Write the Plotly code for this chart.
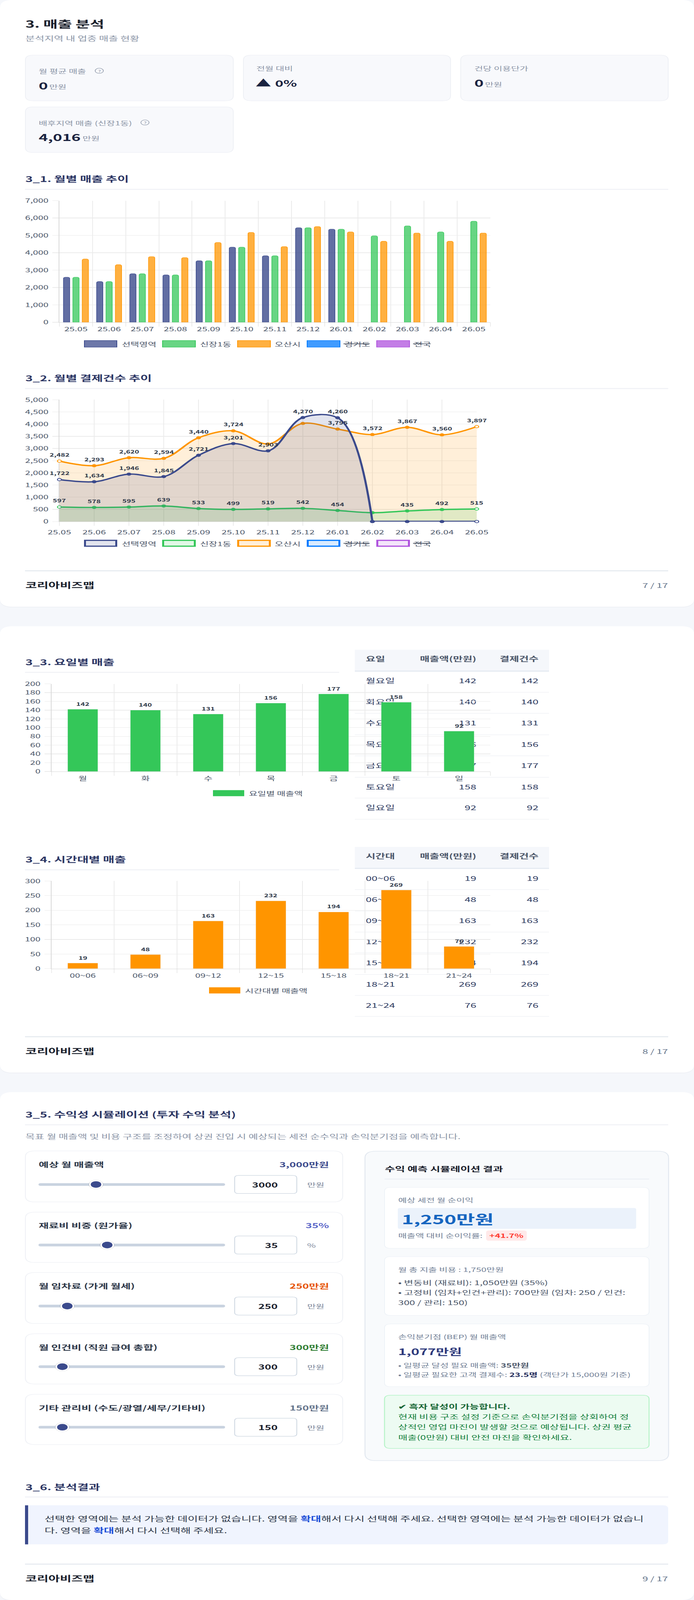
import plotly.graph_objects as go

FONT = "Noto Sans CJK KR"
W, H = 1776, 6556

months = ["25.05","25.06","25.07","25.08","25.09","25.10","25.11","25.12","26.01","26.02","26.03","26.04","26.05"]
sales_selected = [2594,2344,2795,2726,3541,4324,3829,5440,5358,None,None,None,None]
sales_sinjang = [2594,2344,2795,2726,3541,4324,3829,5440,5358,4976,5546,5201,5816]
sales_osan = [3641,3315,3779,3722,4594,5170,4355,5508,5201,4663,5139,4663,5139]

count_selected = [1722,1634,1946,1845,2721,3201,2903,4270,4260,0,0,0,0]
count_sinjang = [597,578,595,639,533,499,519,542,454,363,435,492,515]
count_osan = [2482,2293,2620,2594,3440,3724,3185,4029,3795,3572,3867,3560,3897]
hidden_selected = {9,10,11,12}
hidden_sinjang = {9}
hidden_osan = {6,7}

legend_names = ["선택영역","신장1동","오산시","경기도","전국"]

weekdays = ["월","화","수","목","금","토","일"]
weekday_full = ["월요일","화요일","수요일","목요일","금요일","토요일","일요일"]
weekday_sales = [142,140,131,156,177,158,92]
weekday_counts = [142,140,131,156,177,158,92]

hours = ["00~06","06~09","09~12","12~15","15~18","18~21","21~24"]
hour_sales = [19,48,163,232,194,269,76]
hour_counts = [19,48,163,232,194,269,76]

NAVY="#3b4a8c"; GREEN="#34c759"; ORANGE="#ff9500"; BLUE="#007aff"; PURPLE="#af52de"
SLATE="#4a5568"; DARK="#2d3748"; HEAD="#2b3563"; GRAY="#8a94a6"; GRID="#ebebeb"; AXL="#d8d8d8"

def rgba(h,a):
    h=h.lstrip('#'); return f"rgba({int(h[:2],16)},{int(h[2:4],16)},{int(h[4:],16)},{a})"

shapes=[]; annos=[]
def rrect(x0,y0,x1,y1,r=0,fill="#fff",line=None,lw=0,rl=None):
    rl = r if rl is None else rl
    p=(f"M{x0+rl},{y0} L{x1-r},{y0} Q{x1},{y0} {x1},{y0+r} L{x1},{y1-r} Q{x1},{y1} {x1-r},{y1} "
       f"L{x0+rl},{y1} Q{x0},{y1} {x0},{y1-rl} L{x0},{y0+rl} Q{x0},{y0} {x0+rl},{y0} Z")
    shapes.append(dict(type="path",path=p,xref="x",yref="y",layer="below",fillcolor=fill,
                       line=dict(color=line or fill,width=lw)))
def hline(x0,x1,y,color,w=2):
    shapes.append(dict(type="line",x0=x0,x1=x1,y0=y,y1=y,xref="x",yref="y",layer="below",line=dict(color=color,width=w)))
def circle(cx,cy,r,fill,line=None,lw=0):
    shapes.append(dict(type="circle",x0=cx-r,x1=cx+r,y0=cy-r,y1=cy+r,xref="x",yref="y",layer="below",
                       fillcolor=fill,line=dict(color=line or fill,width=lw)))
def T(x,y,s,size=24,color=DARK,bold=False,anchor="left"):
    annos.append(dict(xref="x",yref="y",x=x,y=y,text=(f"<b>{s}</b>" if bold else s),showarrow=False,
                      xanchor=anchor,yanchor="middle",align=anchor,borderpad=0,
                      font=dict(family=FONT,size=size,color=color)))
def section(y_text,y_rule,s,x1=1710):
    T(64,y_text,s,32,HEAD,True)
    hline(64,x1,y_rule,"#f0f1f6",4)
def footer(y_line,y_text,page):
    hline(64,1710,y_line,"#cbd5e0",2)
    T(64,y_text,"코리아비즈맵",32,"#1a202c",True)
    T(1710,y_text,page,26,"#64748b",False,"right")

for y0,y1 in [(0,2486),(2566,4395),(4475,6556)]:
    rrect(0,y0+2,1776,y1+3,32,"#eef0f5")
    rrect(0,y0,1776,y1,32,"#ffffff")

T(64,97,"3. 매출 분석",40,"#1a202c",True)
T(64,156,"분석지역 내 업종 매출 현황",26.5,GRAY)
for x0,x1,y0,y1 in [(65,597,226,413),(623,1153,226,413),(1179,1710,226,413),(65,597,438,625)]:
    rrect(x0,y0,x1,y1,20,"#f8f9fc","#eef0f5",2)
def help_icon(cx,cy):
    circle(cx,cy,10.5,"rgba(0,0,0,0)",GRAY,1.6)
    T(cx,cy,"?",15,GRAY,False,"center")
T(98,290,"월 평균 매출",24,GRAY); help_icon(254,290)
T(98,349,"0",40,"#1a2340",True); T(125,354,"만원",24,GRAY)
T(655,279,"전월 대비",24,GRAY)
T(653,339,"▲",40,"#1a2340",True); T(703,339,"0%",36,"#1a2340",True)
T(1213,279,"건당 이용단가",24,GRAY)
T(1213,339,"0",40,"#1a2340",True); T(1240,344,"만원",24,GRAY)
T(98,502,"배후지역 매출 (신장1동)",24,GRAY); help_icon(371,502)
T(98,561,"4,016",40,"#1a2340",True); T(210,566,"만원",24,GRAY)

section(732,776,"3_1. 월별 매출 추이")
section(1548,1592,"3_2. 월별 결제건수 추이")
footer(2339,2397,"7 / 17")

leg_box=[(215,300),(415,501),(607,693),(785,871),(963,1049)]
leg_txt=[311,511,702,880,1058]
leg_end=[None,None,None,946,1102]
leg_col=[NAVY,GREEN,ORANGE,BLUE,PURPLE]
def legend(yc,alpha,lw):
    for (x0,x1),tx,te,c,n in zip(leg_box,leg_txt,leg_end,leg_col,legend_names):
        shapes.append(dict(type="rect",x0=x0+lw/2,x1=x1-lw/2,y0=yc-14.5+lw/2,y1=yc+14.5-lw/2,xref="x",yref="y",layer="below",
                           fillcolor=rgba(c,alpha),line=dict(color=c,width=lw)))
        T(tx,yc,n,24,SLATE)
        if te:
            hline(tx-1,te,yc,DARK,2.5)
legend(1409,0.75,2)
legend(2226,0.15,5)

def table_frame(x0,x1,ytop,yhead,rules):
    rrect(x0,ytop,x1,yhead,0,"#f5f7fb")
    hline(x0,x1,yhead-2,"#e2e8f0",4)
    for y in rules: hline(x0,x1,y,"#eef0f4",2)
table_frame(908,1405,2662,2752,[2837,2923,3011,3097,3185,3270,3357])
table_frame(908,1405,3470,3560,[3645,3733,3819,3904,3993,4079,4165])

week_row_y=[2793,2879,2966,3053,3140,3228,3313]
hour_row_y=[3602,3689,3776,3862,3948,4036,4122]
COL0,COL1,COL2=936,1219,1378
CELL="#2d3a5f"; HCOL="#4a5568"

tbl_left_x=[COL0]*16
tbl_left_y=[2703,3511]+week_row_y+hour_row_y
tbl_left_t=["<b>요일</b>","<b>시간대</b>"]+weekday_full+hours
tbl_left_c=[HCOL,HCOL]+[CELL]*14

tbl_right_x=[];tbl_right_y=[];tbl_right_t=[];tbl_right_c=[]
for y,h1,h2 in [(2703,"매출액(만원)","결제건수"),(3511,"매출액(만원)","결제건수")]:
    tbl_right_x+=[COL1,COL2];tbl_right_y+=[y,y];tbl_right_t+=[f"<b>{h1}</b>",f"<b>{h2}</b>"];tbl_right_c+=[HCOL,HCOL]
for ys,a,b in [(week_row_y,weekday_sales,weekday_counts),(hour_row_y,hour_sales,hour_counts)]:
    for y,p,q in zip(ys,a,b):
        tbl_right_x+=[COL1,COL2];tbl_right_y+=[y,y];tbl_right_t+=[str(p),str(q)];tbl_right_c+=[CELL,CELL]

section(2712,2755,"3_3. 요일별 매출",868)
section(3520,3564,"3_4. 시간대별 매출",868)
footer(4248,4306,"8 / 17")

def legend1(x0,x1,tx,yc,color,name):
    shapes.append(dict(type="rect",x0=x0,x1=x1,y0=yc-12.5,y1=yc+12.5,xref="x",yref="y",layer="below",
                       fillcolor=color,line=dict(color=color,width=0)))
    T(tx,yc,name,24,SLATE)
legend1(545,625,636,3250,GREEN,"요일별 매출액")
legend1(535,615,626,4058,ORANGE,"시간대별 매출액")

section(4566,4609,"3_5. 수익성 시뮬레이션 (투자 수익 분석)")
T(64,4656,"목표 월 매출액 및 비용 구조를 조정하여 상권 진입 시 예상되는 세전 순수익과 손익분기점을 예측합니다.",26.5,GRAY)

sl_labels=["예상 월 매출액","재료비 비중 (원가율)","월 임차료 (가게 월세)","월 인건비 (직원 급여 총합)","기타 관리비 (수도/광열/세무/기타비)"]
sl_values=["3,000만원","35%","250만원","300만원","150만원"]
sl_inputs=["3000","35","250","300","150"]
sl_units=["만원","%","만원","만원","만원"]
sl_colors=[NAVY,"#5a67c8","#e65100","#2e7d32","#64748b"]
sl_card=[(4716,4925),(4967,5173),(5214,5423),(5465,5671),(5713,5919)]
sl_label_y=[4771,5021,5269,5519,5767]
sl_track_y=[4853.5,5101.5,5351.5,5600,5848]
sl_thumb_x=[245.7,274.4,172.2,159.6,159.6]
for i in range(5):
    y0,y1=sl_card[i]; ty=sl_track_y[i]
    rrect(65,y0,877,y1,24,"#ffffff","#eef0f5",2)
    T(98,sl_label_y[i],sl_labels[i],28,DARK,True)
    T(843,sl_label_y[i],sl_values[i],28,sl_colors[i],True,"right")
    rrect(98.5,ty-5.5,576,ty+5.5,5.5,"#c9d3e0")
    circle(sl_thumb_x[i],ty,19,"rgba(0,0,0,0.10)")
    circle(sl_thumb_x[i],ty,17.5,"#ffffff")
    circle(sl_thumb_x[i],ty,13.5,NAVY)
    rrect(600.5,ty-37,759.5,ty+37,10,"#ffffff","#cbd5e0",2)
    T(712,ty,sl_inputs[i],28,"#1a202c",True,"right")
    T(785,ty,sl_units[i],24,"#7a8699")

rrect(934,4717,1711,5985,28,"#f8fafc","#e2e8f0",2.5)
T(984,4788,"수익 예측 시뮬레이션 결과",28,"#1a202c",True)
hline(984,1661,4831,"#e2e8f0",2)
rrect(984,4865,1661,5115,16,"#ffffff","#edf2f7",2)
T(1018,4916,"예상 세전 월 순이익",24,"#718096")
rrect(1018,4950,1628,5035,6,"#ebf2fb")
T(1027,4994,"1,250만원",52,"#1565c0",True)
T(1018,5062,"매출액 대비 순이익률:",24,"#718096")
rrect(1244,5042,1348,5084,8,"#ffe9e9")
T(1296,5062,"+41.7%",24,"#ff3b30",True,"center")
rrect(984,5149,1661,5390,16,"#ffffff","#edf2f7",2)
T(1018,5200,"월 총 지출 비용 : 1,750만원",24,"#718096")
T(1018,5254,"• 변동비 (재료비): 1,050만원 (35%)",26,SLATE)
T(1018,5294,"• 고정비 (임차+인건+관리): 700만원 (임차: 250 / 인건:",26,SLATE)
T(1018,5336,"300 / 관리: 150)",26,SLATE)
rrect(984,5425,1661,5682,16,"#ffffff","#edf2f7",2)
T(1018,5476,"손익분기점 (BEP) 월 매출액",24,"#718096")
T(1018,5536,"1,077만원",36,"#2d3a7c",True)
T(1018,5592,"• 일평균 달성 필요 매출액: <b><span style='color:#4a5568'>35만원</span></b>",24,"#718096")
T(1018,5631,"• 일평균 필요한 고객 결제수: <b><span style='color:#1e2a5a'>23.5명</span></b> (객단가 15,000원 기준)",24,"#718096")
rrect(984,5717,1661,5935,16,"#edfbf2","#b6f3c8",2.5)
T(1018,5762,"✔ 흑자 달성이 가능합니다.",26,"#166534",True)
T(1018,5803,"현재 비용 구조 설정 기준으로 손익분기점을 상회하여 정",26,"#15803d")
T(1018,5845,"상적인 영업 마진이 발생할 것으로 예상됩니다. 상권 평균",26,"#15803d")
T(1018,5887,"매출(0만원) 대비 안전 마진을 확인하세요.",26,"#15803d")

section(6092,6134,"3_6. 분석결과")
rrect(64,6168,1710,6328,14,"#f0f4fe",rl=0)
shapes.append(dict(type="rect",x0=64,x1=72,y0=6168,y1=6328,xref="x",yref="y",layer="below",fillcolor=NAVY,line=dict(width=0,color=NAVY)))
HL="<b><span style='color:#1d4ed8'>확대</span></b>"
T(113,6221,f"선택한 영역에는 분석 가능한 데이터가 없습니다. 영역을 {HL}해서 다시 선택해 주세요. 선택한 영역에는 분석 가능한 데이터가 없습니",28.5,DARK)
T(113,6269,f"다. 영역을 {HL}해서 다시 선택해 주세요.",28.5,DARK)
footer(6409,6467,"9 / 17")

fig=go.Figure()
fig.add_trace(go.Scatter(x=tbl_left_x,y=tbl_left_y,text=tbl_left_t,mode="text",textposition="middle right",
    textfont=dict(family=FONT,size=27,color=tbl_left_c),xaxis="x",yaxis="y",hoverinfo="skip",cliponaxis=False))
fig.add_trace(go.Scatter(x=tbl_right_x,y=tbl_right_y,text=tbl_right_t,mode="text",textposition="middle left",
    textfont=dict(family=FONT,size=27,color=tbl_right_c),xaxis="x",yaxis="y",hoverinfo="skip",cliponaxis=False))

bar_w=16/84.85; bar_step=24/84.85
for i,(vals,c,name) in enumerate([(sales_selected,NAVY,"선택영역"),(sales_sinjang,GREEN,"신장1동"),(sales_osan,ORANGE,"오산시")]):
    fig.add_trace(go.Bar(x=months,y=vals,name=name,xaxis="x2",yaxis="y2",width=bar_w,offset=(i-1)*bar_step-bar_w/2,
        marker=dict(color=rgba(c,0.8 if c==NAVY else 0.75),line=dict(color=c,width=1.5),cornerradius=5)))

def line_trace(xs,ys,c,name,hollow,shape="spline",fill="tozeroy",lw=5.5):
    mc=["#ffffff" if j in hollow else c for j in range(len(xs))]
    return go.Scatter(x=xs,y=ys,name=name,xaxis="x3",yaxis="y3",mode="lines+markers",cliponaxis=False,
        line=dict(color=c,width=lw,shape=shape),
        marker=dict(size=10,color=mc,line=dict(color=c,width=2.5)),
        fill=fill,fillcolor=rgba(c,0.15))
fig.add_trace(line_trace(months,count_osan,ORANGE,"오산시",{0,12}))
fig.add_trace(line_trace(months,count_sinjang,GREEN,"신장1동",{0,12}))
fig.add_trace(line_trace(months[:10],count_selected[:10],NAVY,"선택영역",{0}))
fig.add_trace(line_trace(months[9:],count_selected[9:],NAVY,"선택영역",{3},"linear","none",7))
for vals,hid in [(count_osan,hidden_osan),(count_sinjang,hidden_sinjang),(count_selected,hidden_selected)]:
    for j,v in enumerate(vals):
        if j in hid: continue
        annos.append(dict(xref="x3",yref="y3",x=j,y=v,text=f"<b>{v:,}</b>",showarrow=False,yshift=26.5,
                          xanchor="center",yanchor="middle",font=dict(family=FONT,size=19,color=DARK)))

fig.add_trace(go.Bar(x=weekdays,y=weekday_sales,name="요일별 매출액",xaxis="x4",yaxis="y4",width=0.48,marker=dict(color=GREEN)))
fig.add_trace(go.Bar(x=hours,y=hour_sales,name="시간대별 매출액",xaxis="x5",yaxis="y5",width=0.48,marker=dict(color=ORANGE)))
for xr,yr,vals,sh in [("x4","y4",weekday_sales,22),("x5","y5",hour_sales,23)]:
    for j,v in enumerate(vals):
        annos.append(dict(xref=xr,yref=yr,x=j,y=v,text=f"<b>{v}</b>",showarrow=False,yshift=sh,
                          xanchor="center",yanchor="middle",font=dict(family=FONT,size=19,color=DARK)))

def xdom(a,b): return [a/W,b/W]
def ydom(top,bottom): return [1-bottom/H,1-top/H]
tickf=dict(family=FONT,size=24,color=SLATE)
def xax(dom,anchor,rng,boundaries=True):
    d=dict(domain=dom,anchor=anchor,type="category",range=rng,showgrid=True,gridcolor=GRID,gridwidth=1.6,
           showline=True,linecolor=AXL,linewidth=2,ticks="outside",ticklen=16,tickwidth=1.6,tickcolor=GRID,
           tickfont=tickf,ticklabelstandoff=6,fixedrange=True,zeroline=False,automargin=False,layer="below traces")
    if boundaries: d["tickson"]="boundaries"
    return d
def yax(dom,anchor,rng,dtick,fmt=None):
    d=dict(domain=dom,anchor=anchor,range=rng,dtick=dtick,showgrid=True,gridcolor=GRID,gridwidth=2,
           showline=True,linecolor=AXL,linewidth=2,ticks="outside",ticklen=16,tickwidth=2,tickcolor=GRID,
           tickfont=tickf,ticklabelstandoff=5,fixedrange=True,zeroline=False,automargin=False,layer="below traces")
    if fmt: d["tickformat"]=fmt
    return d

fig.update_layout(
    width=W,height=H,autosize=False,margin=dict(l=0,r=0,t=0,b=0,pad=0,autoexpand=False),
    paper_bgcolor="#f5f7fb",plot_bgcolor="rgba(0,0,0,0)",showlegend=False,barmode="overlay",
    font=dict(family=FONT),shapes=shapes,annotations=annos,
    xaxis=dict(domain=[0,1],range=[0,W],visible=False,fixedrange=True,automargin=False),
    yaxis=dict(domain=[0,1],range=[H,0],visible=False,fixedrange=True,automargin=False),
    xaxis2=xax(xdom(152,1255),"y2",[-0.5,12.5]),
    yaxis2=yax(ydom(822,1320.6),"x2",[0,7000],1000,","),
    xaxis3=xax(xdom(152,1220),"y3",[0,12],False),
    yaxis3=yax(ydom(1638,2137),"x3",[0,5000],500,","),
    xaxis4=xax(xdom(131.5,1255),"y4",[-0.5,6.5]),
    yaxis4=yax(ydom(2802,3161),"x4",[0,200],20),
    xaxis5=xax(xdom(131.5,1255),"y5",[-0.5,6.5]),
    yaxis5=yax(ydom(3610,3969),"x5",[0,300],50),
)
fit_js = """document.body.style.margin='0';
document.documentElement.style.background='#f5f7fb';
var k=Math.min(1,window.innerHeight/%d);
if(k<1){var g=document.querySelector('.plotly-graph-div');
g.style.transformOrigin='0 0';g.style.transform='scale(1,'+k+')';
document.documentElement.style.overflow='hidden';document.body.style.overflow='hidden';}""" % H
fig.write_html("out.html",post_script=fit_js,config={"displayModeBar":False})
